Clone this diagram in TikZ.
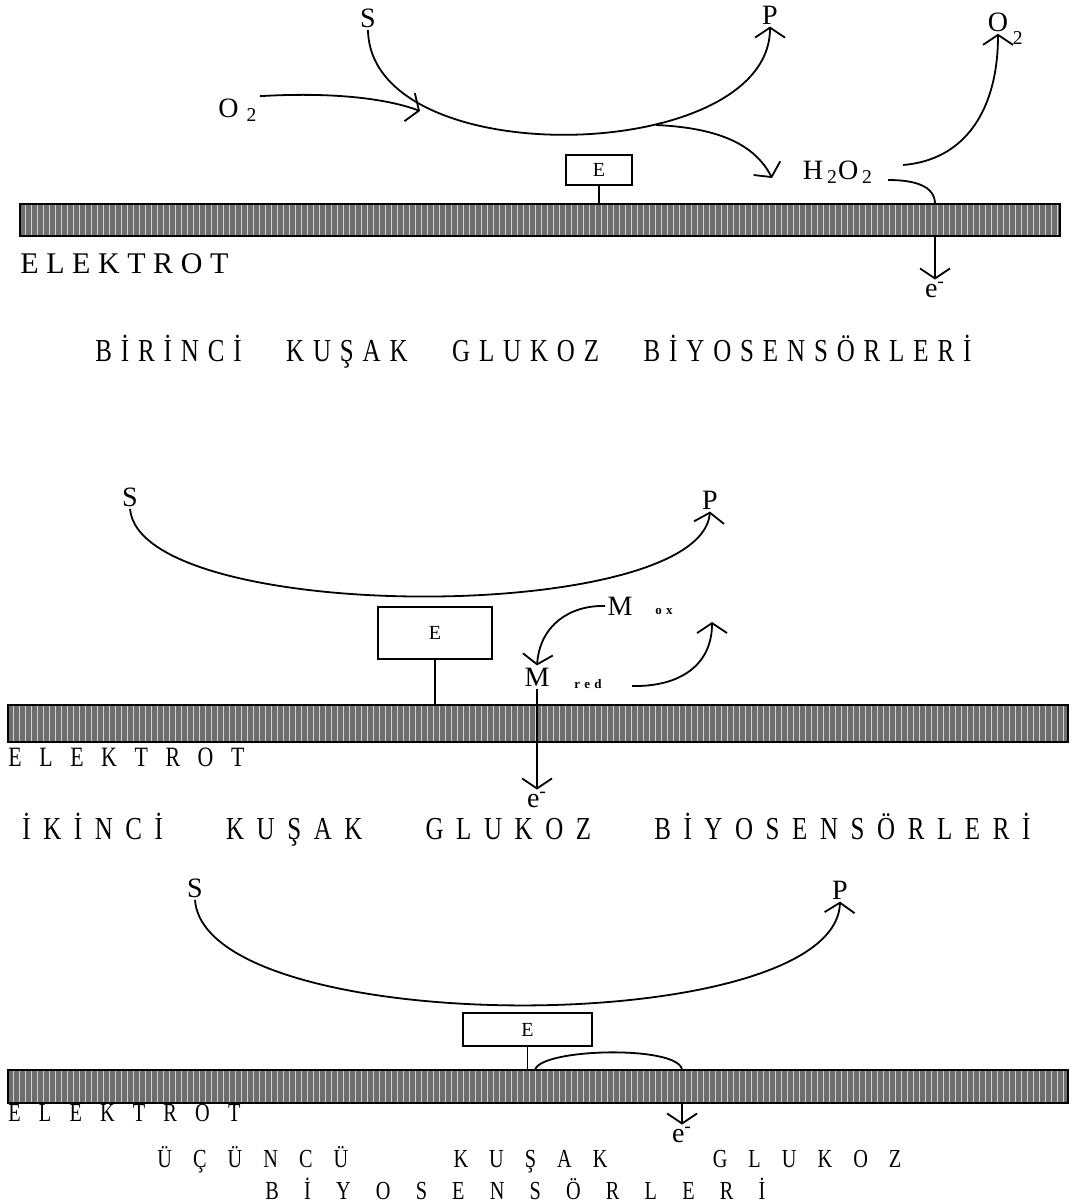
\documentclass[tikz,border=0pt]{standalone}
\usepackage{fontspec}
\setmainfont{Liberation Serif}
\newfontfamily\condfont[FakeStretch=0.78]{Liberation Serif}
\usetikzlibrary{arrows.meta,patterns,positioning}
\definecolor{BarFill}{HTML}{6E6E6E}
\definecolor{BarLine}{HTML}{D0D0D0}
\newcommand{\spreadtext}[2]{\makebox[#1][s]{#2}}

\begin{document}
\begin{tikzpicture}[
	x=0.5pt, y=-0.5pt, % one unit is one pixel of the sheet
	% Style for the species labels (S, P, O2, H2O2, M)
	species/.style={
		inner sep=1pt,
		font=\fontsize{14}{16}\selectfont
	},
	% Style for the small spaced subscripts
	subtext/.style={
		inner sep=0pt,
		font=\fontsize{6.5}{8}\selectfont\bfseries
	},
	% Style for the enzyme boxes
	enzyme/.style={
		draw,
		line width=0.9pt,
		inner sep=0pt,
		font=\fontsize{10}{12}\selectfont
	},
	% Style for the electrode bars
	electrode/.style={
		draw,
		line width=1pt,
		preaction={fill=BarFill},
		pattern=vertical lines,
		pattern color=BarLine,
		minimum width=530pt,
		inner sep=0pt
	},
	% Style for the reaction arrows with open barbs
	react/.style={
		line width=0.9pt,
		-{Straight Barb[length=5pt,width=15pt]}
	},
	% Style for plain connecting lines
	link/.style={
		line width=0.9pt
	},
	% Style for the captions
	caption/.style={
		inner sep=0pt,
		anchor=west,
		font=\condfont\fontsize{16}{18}\selectfont
	}
	]
	\useasboundingbox (0,0) rectangle (1075,1203);
	
	% ================= FIRST GENERATION =================
	\node[species] (S1) at (368,18) {S};
	\node[species] (P1) at (770,15) {P};
	\node[species] (O2in) at (238,110) {O\hspace{4pt}\textsubscript{2}};
	\node[species] (H2O2) at (838,172) {H\hspace{2pt}\textsubscript{2}O\hspace{2pt}\textsubscript{2}};
	\node[species, label={[species]-30:\textsubscript{2}}] (O2out) at (998,22) {O};
	\node[enzyme, minimum width=33pt, minimum height=15pt] (E1) at (599,170) {E};
	\node[electrode, minimum width=520pt, minimum height=16pt] (bar1) at (540,220) {};
	\node[species] (e1) at (935,290) {e\textsuperscript{-}};
	\node[caption, font=\fontsize{15}{17}\selectfont] (el1) at (20,264) {\spreadtext{104pt}{E L E K T R O T}};
	\node[caption] (t1) at (95,352) {\spreadtext{438pt}{B İ R İ N C İ ~ ~ K U Ş A K ~ ~ G L U K O Z ~ ~ B İ Y O S E N S Ö R L E R İ}};
	
	\coordinate (j1) at (420,111);
	\coordinate (j2) at (656,125);
	\coordinate (hp) at (772,178);
	\coordinate (h0) at (903,165);
	\coordinate (h2) at (888,180);
	\coordinate (h1) at (935,204);
	\coordinate (d1) at (935,236);
	
	\draw[react] (S1.south) .. controls (370,175) and (770,165) .. (P1.south);
	\draw[react] (O2in.north east) .. controls (330,92) and (385,98) .. (j1);
	\draw[react] (j2) .. controls (720,128) and (755,145) .. (hp);
	\draw[react] (h0) .. controls (965,160) and (998,110) .. (O2out.south);
	\draw[link] (h2) .. controls (915,180) and (935,186) .. (h1);
	\draw[link] (E1.south) -- (E1.south |- bar1.north);
	\draw[react] (d1) -- (e1.north);
	
	% ================= SECOND GENERATION =================
	\node[species] (S2) at (130,497) {S};
	\node[species] (P2) at (710,500) {P};
	\node[enzyme, minimum width=57pt, minimum height=26pt] (E2) at (435,633) {E};
	\node[species] (Mox) at (620,606) {M};
	\node[subtext] (ox) at (664,611) {o\,\,x};
	\node[species] (Mred) at (537,677) {M};
	\node[subtext] (red) at (588,684) {r\,\,e\,\,d};
	\node[electrode, minimum height=18.5pt] (bar2) at (538,723.5) {};
	\node[species] (e2) at (537,800) {e\textsuperscript{-}};
	\node[caption, font=\condfont\fontsize{14}{16}\selectfont] (el2) at (8,757) {\spreadtext{118pt}{E L E K T R O T}};
	\node[caption] (t2) at (22,830) {\spreadtext{504pt}{İ K İ N C İ ~ ~ K U Ş A K ~ ~ G L U K O Z ~ ~ B İ Y O S E N S Ö R L E R İ}};
	
	\coordinate (m2) at (632,686);
	\coordinate (up2) at (712,622);
	
	\draw[react] (S2.south) .. controls (140,625) and (700,625) .. (P2.south);
	\draw[link] (E2.south) -- (E2.south |- bar2.north);
	\draw[react] (Mox.west) .. controls (570,605) and (540,625) .. (Mred.north);
	\draw[react] (m2) .. controls (680,687) and (712,665) .. (up2);
	\draw[react] (Mred.south) -- (e2.north);
	
	% ================= THIRD GENERATION =================
	\node[species] (S3) at (195,888) {S};
	\node[species] (P3) at (840,890) {P};
	\node[enzyme, minimum width=64.5pt, minimum height=16.5pt] (E3) at (527.5,1029.5) {E};
	\node[electrode, minimum height=16.5pt] (bar3) at (538,1086.5) {};
	\node[species] (e3) at (682,1135) {e\textsuperscript{-}};
	\node[caption, font=\condfont\fontsize{13}{15}\selectfont] (el3) at (8,1113) {\spreadtext{116pt}{E L E K T R O T}};
	\node[caption, font=\condfont\fontsize{13}{15}\selectfont] (t3a) at (157,1160) {\spreadtext{372pt}{Ü Ç Ü N C Ü ~ ~ K U Ş A K ~ ~ G L U K O Z}};
	\node[caption, font=\condfont\fontsize{13}{15}\selectfont] (t3b) at (265,1189) {\spreadtext{250pt}{B İ Y O S E N S Ö R L E R İ}};
	
	\coordinate (k1) at (535,1070);
	\coordinate (k2) at (682,1070);
	\coordinate (k3) at (682,1103);
	
	\draw[react] (S3.south) .. controls (205,1040) and (835,1040) .. (P3.south);
	\draw[link] (E3.south) -- (E3.south |- bar3.north);
	\draw[link] (k1) .. controls (540,1048) and (680,1045) .. (k2);
	\draw[react] (k3) -- (e3.north);
	
\end{tikzpicture}
\end{document}
